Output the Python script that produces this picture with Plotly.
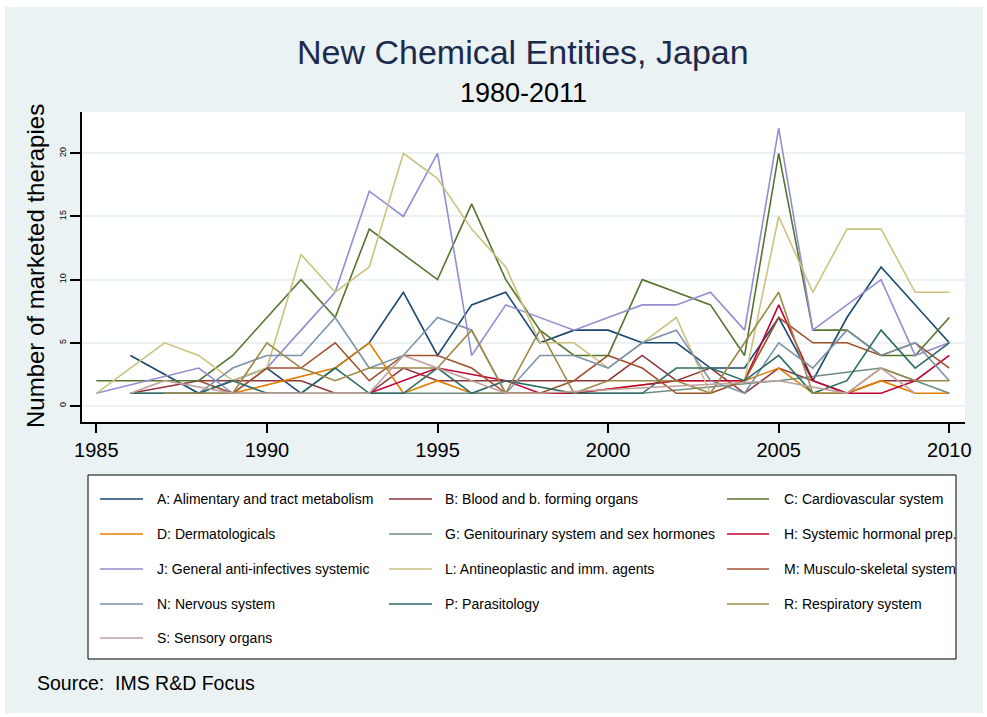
import plotly.graph_objects as go

# ---- data: new chemical entities per ATC group, by launch year ----
years = list(range(1985, 2011))
N_ = None  # no launch recorded that year (line connects across the gap)

A = [N_, 4, N_, 1, N_, 3, 1, 3, 5, 9, 4, 8, 9, 5, 6, 6, 5, 5, 3, 3, 7, 2, 7, 11, 8, 5]
B = [N_, 1, N_, 2, 2, 2, 2, 1, 1, 3, 2, 2, 2, 2, 2, 2, 4, 2, 3, 1, 3, 2, 1, 2, 2, N_]
C = [2, 2, 2, 2, 4, 7, 10, 7, 14, 12, 10, 16, 10, 6, 4, 4, 10, 9, 8, 4, 20, 6, 6, 4, 4, 7]
D = [N_, N_, N_, N_, 1, N_, N_, 3, 5, 1, 2, 1, N_, N_, 1, N_, N_, 2, 2, 2, 3, 1, 1, 2, 1, 1]
G = [N_, 1, N_, 1, N_, 1, N_, N_, 1, N_, N_, 1, N_, N_, 1, N_, 1, N_, N_, N_, 2, N_, N_, 3, N_, 1]
H = [N_, N_, N_, N_, N_, N_, N_, N_, 1, 2, 3, N_, 2, 1, 1, N_, N_, 2, 2, 2, 8, 2, 1, 1, 2, 4]
J = [1, N_, N_, 3, 1, 3, 6, 9, 17, 15, 20, 4, 8, 7, 6, 7, 8, 8, 9, 6, 22, 6, 8, 10, 4, 5]
L = [1, 3, 5, 4, 2, 3, 12, 9, 11, 20, 18, 14, 11, 5, 5, 3, 5, 7, 1, 2, 15, 9, 14, 14, 9, 9]
M = [N_, N_, N_, 2, 1, 3, 3, 5, 2, 4, 4, 3, 1, 1, 2, 4, 3, 1, 1, 2, 7, 5, 5, 4, 5, 3]
Nn = [N_, N_, N_, 1, 3, 4, 4, 7, 3, 4, 7, 6, 1, 4, 4, 3, 5, 6, 2, 1, 5, 3, 6, 4, 5, 2]
P = [N_, 1, 1, 1, 2, 1, 1, 3, 1, 1, 3, 1, 2, N_, 1, 1, 1, 3, 3, 2, 4, 1, 2, 6, 3, 5]
R = [N_, N_, 1, 1, 1, 5, 3, 2, 3, 3, 3, 6, 1, 6, 1, 2, 2, 2, 1, 5, 9, 1, 1, 3, 2, 2]
S = [N_, 1, 2, N_, 1, N_, N_, N_, 1, 4, 3, 2, 1, 1, N_, N_, N_, N_, N_, N_, 2, N_, 1, 3, 1, N_]

series_names = [
    "A: Alimentary and tract metabolism",
    "B: Blood and b. forming organs",
    "C: Cardiovascular system",
    "D: Dermatologicals",
    "G: Genitourinary system and sex hormones",
    "H: Systemic hormonal prep.",
    "J: General anti-infectives systemic",
    "L: Antineoplastic and imm. agents",
    "M: Musculo-skeletal system",
    "N: Nervous system",
    "P: Parasitology",
    "R: Respiratory system",
    "S: Sensory organs",
]
series_values = [A, B, C, D, G, H, J, L, M, Nn, P, R, S]

x_ticks = [1985, 1990, 1995, 2000, 2005, 2010]
y_ticks = [0, 5, 10, 15, 20]

title_text = "New Chemical Entities, Japan"
subtitle_text = "1980-2011"
y_title = "Number of marketed therapies"
note_text = "Source:  IMS R&D Focus"

# ---- styling ----
colors = ["#1a476f", "#90353b", "#55752f", "#e37e00", "#6e8e84", "#c10534",
          "#938dd2", "#cac27e", "#a0522d", "#7b92a8", "#2d6d66", "#9c8847", "#bfa19c"]
FONT = "Arial, Liberation Sans, sans-serif"
BG = "#eaf2f3"

W, H = 987, 717
PL, PR, PT, PB = 82, 965, 112, 422  # plot area in pixels


def px(x):
    return (x - PL) / (PR - PL)


def py(y):
    return (PB - y) / (PB - PT)


fig = go.Figure()
for name, vals, col in zip(series_names, series_values, colors):
    fig.add_trace(go.Scatter(
        x=years, y=vals, name=name, mode="lines", connectgaps=True,
        line=dict(color=col, width=1.6), showlegend=False,
        hovertemplate="%{x}: %{y}<extra>" + name + "</extra>",
    ))

shapes = [
    # outer graph region and white plot region
    dict(type="rect", xref="paper", yref="paper", layer="below",
         x0=px(5), x1=px(983), y0=py(713), y1=py(7),
         fillcolor=BG, line=dict(width=0)),
    dict(type="rect", xref="paper", yref="paper", layer="below",
         x0=0, x1=1, y0=0, y1=1, fillcolor="white", line=dict(width=0)),
    # legend box
    dict(type="rect", xref="paper", yref="paper", layer="below",
         x0=px(88), x1=px(956), y0=py(659), y1=py(475),
         fillcolor="white", line=dict(color="black", width=1)),
]

annotations = [
    dict(text=title_text, x=px(523), y=py(52), xref="paper", yref="paper",
         showarrow=False, xanchor="center", yanchor="middle",
         font=dict(family=FONT, size=34, color="#1c2a4e")),
    dict(text=subtitle_text, x=px(523), y=py(93), xref="paper", yref="paper",
         showarrow=False, xanchor="center", yanchor="middle",
         font=dict(family=FONT, size=27, color="black")),
    dict(text=y_title, x=px(35), y=py(266), xref="paper", yref="paper",
         showarrow=False, xanchor="center", yanchor="middle", textangle=-90,
         font=dict(family=FONT, size=24, color="black")),
    dict(text=note_text, x=px(35), y=py(683), xref="paper", yref="paper",
         showarrow=False, xanchor="left", yanchor="middle",
         font=dict(family=FONT, size=19.5, color="black")),
]

# three-column key, filled row by row
row_y = [499, 534, 569, 604, 638]
col_x = [(100, 143, 155), (389, 432, 443), (727, 769, 782)]
for i, (name, col) in enumerate(zip(series_names, colors)):
    r, c = divmod(i, 3)
    x0, x1, xt = col_x[c]
    yy = row_y[r]
    shapes.append(dict(type="line", xref="paper", yref="paper",
                       x0=px(x0), x1=px(x1), y0=py(yy), y1=py(yy),
                       line=dict(color=col, width=1.6)))
    annotations.append(dict(text=name, x=px(xt), y=py(yy), xref="paper", yref="paper",
                            showarrow=False, xanchor="left", yanchor="middle",
                            font=dict(family=FONT, size=14, color="black")))

fig.update_layout(
    width=W, height=H, autosize=False,
    margin=dict(l=PL, r=W - PR, t=PT, b=H - PB, pad=0),
    paper_bgcolor="white", plot_bgcolor="white",
    showlegend=False,
    font=dict(family=FONT, color="black"),
    shapes=shapes, annotations=annotations,
    xaxis=dict(range=[1984.58, 2010.46], tickvals=x_ticks, ticks="outside",
               ticklen=9, tickwidth=2, tickcolor="black",
               tickfont=dict(family=FONT, size=20, color="black"),
               showline=True, linecolor="black", linewidth=2,
               showgrid=False, zeroline=False),
    yaxis=dict(range=[-1.27, 23.27], tickvals=y_ticks, ticks="outside",
               ticklen=10, tickwidth=2, tickcolor="black", tickangle=-90,
               tickfont=dict(family=FONT, size=9, color="black"),
               showline=True, linecolor="black", linewidth=2,
               showgrid=True, gridcolor=BG, gridwidth=1.5, zeroline=False),
)

fig.write_html("out.html")
